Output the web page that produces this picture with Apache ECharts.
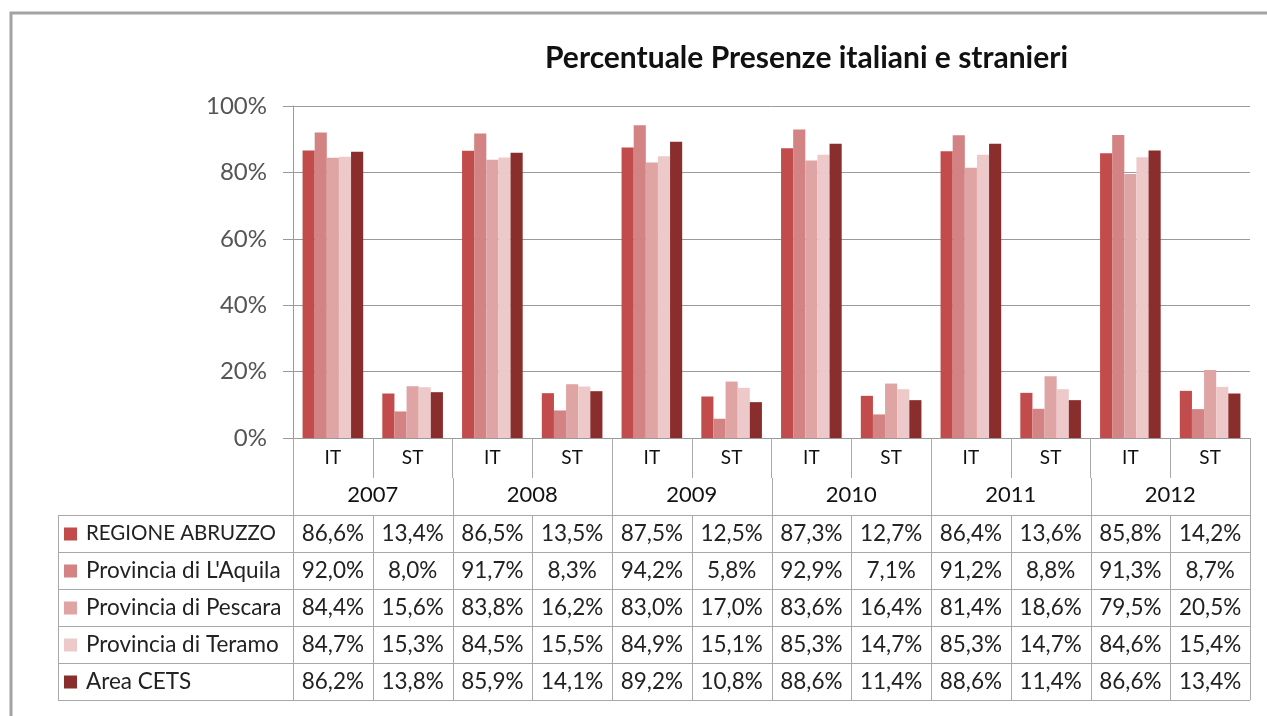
<!DOCTYPE html>
<html>
<head>
<meta charset="utf-8">
<script src="https://cdn.jsdelivr.net/npm/echarts@6/dist/echarts.min.js"></script>
<style>
  html, body { margin: 0; padding: 0; background: #fff; }
  #main { width: 1267px; height: 716px; }
</style>
</head>
<body>
<div id="main"></div>
<script>
// data
const categories = ['IT', 'ST', 'IT', 'ST', 'IT', 'ST', 'IT', 'ST', 'IT', 'ST', 'IT', 'ST'];
const years = ['2007', '2008', '2009', '2010', '2011', '2012'];
const seriesNames = ['REGIONE ABRUZZO', "Provincia di L'Aquila", 'Provincia di Pescara', 'Provincia di Teramo', 'Area CETS'];
const regioneAbruzzo = [86.6, 13.4, 86.5, 13.5, 87.5, 12.5, 87.3, 12.7, 86.4, 13.6, 85.8, 14.2];
const provAquila = [92.0, 8.0, 91.7, 8.3, 94.2, 5.8, 92.9, 7.1, 91.2, 8.8, 91.3, 8.7];
const provPescara = [84.4, 15.6, 83.8, 16.2, 83.0, 17.0, 83.6, 16.4, 81.4, 18.6, 79.5, 20.5];
const provTeramo = [84.7, 15.3, 84.5, 15.5, 84.9, 15.1, 85.3, 14.7, 85.3, 14.7, 84.6, 15.4];
const areaCets = [86.2, 13.8, 85.9, 14.1, 89.2, 10.8, 88.6, 11.4, 88.6, 11.4, 86.6, 13.4];
const yTicks = [0, 20, 40, 60, 80, 100];

const allValues = [regioneAbruzzo, provAquila, provPescara, provTeramo, areaCets];
const colors = ['#c24b4b', '#d38383', '#dfa4a4', '#eec9c9', '#8a2d2d'];
const font = 'Lato, "Open Sans", sans-serif';
const gridColor = '#9a9a9a';
const tableColor = '#a8a8a8';

const chart = echarts.init(document.getElementById('main'));

let option = {
  animation: false,
  backgroundColor: '#fff',
  title: {
    text: 'Percentuale Presenze italiani e stranieri',
    left: 540,
    top: 38,
    textStyle: { fontFamily: font, fontSize: 30, fontWeight: 'bold', color: '#111' }
  },
  grid: { left: 293, right: 17, top: 106, bottom: 278, containLabel: false },
  xAxis: {
    type: 'category',
    data: categories,
    axisLine: { lineStyle: { color: gridColor, width: 1 } },
    axisTick: { show: true, interval: 0, length: 40, lineStyle: { color: tableColor } },
    axisLabel: { interval: 0, margin: 10, fontFamily: font, fontSize: 19, color: '#111' }
  },
  yAxis: {
    type: 'value',
    min: yTicks[0],
    max: yTicks[yTicks.length - 1],
    interval: 20,
    axisLine: { show: true, lineStyle: { color: gridColor } },
    axisTick: { show: true, length: 10, lineStyle: { color: gridColor } },
    splitLine: { lineStyle: { color: gridColor } },
    axisLabel: { formatter: '{value}%', margin: 26, fontFamily: font, fontSize: 24, color: '#555' }
  },
  series: seriesNames.map((name, i) => ({
    name: name,
    type: 'bar',
    data: allValues[i],
    barGap: 0,
    barCategoryGap: '24%',
    itemStyle: { color: colors[i] }
  }))
};
chart.setOption(option);

// data table under the plot, placed from the category axis
function drawTable() {
  const c0 = chart.convertToPixel({ xAxisIndex: 0 }, 0);
  const bandW = chart.convertToPixel({ xAxisIndex: 0 }, 1) - c0;
  const xLeft = c0 - bandW / 2;
  const xRight = xLeft + bandW * categories.length;
  const y0 = chart.convertToPixel({ yAxisIndex: 0 }, 0);
  const rowTop = y0 + 77;
  const rowH = 37;
  const legendLeft = 58;
  const ls = { stroke: tableColor, lineWidth: 1 };
  const els = [];
  const line = (x1, y1, x2, y2) => els.push({ type: 'line', silent: true, shape: { x1: x1, y1: y1, x2: x2, y2: y2 }, style: ls });
  const text = (x, y, t, align, size, color) => els.push({
    type: 'text', silent: true, x: x, y: y,
    style: { text: t, align: align, verticalAlign: 'middle', font: size + 'px ' + font, fill: color }
  });

  // year row
  for (let k = 0; k <= years.length; k++) {
    const x = Math.round(xLeft + k * 2 * bandW) + 0.5;
    line(x, y0 + 40, x, rowTop);
  }
  years.forEach((yr, k) => text(xLeft + (2 * k + 1) * bandW, y0 + 57, yr, 'center', 22, '#111'));

  // grid of the value rows
  for (let r = 0; r <= seriesNames.length; r++) {
    const y = Math.round(rowTop + r * rowH) + 0.5;
    line(legendLeft, y, xRight, y);
  }
  const yEnd = rowTop + seriesNames.length * rowH;
  line(legendLeft + 0.5, rowTop, legendLeft + 0.5, yEnd);
  for (let k = 0; k <= categories.length; k++) {
    const x = Math.round(xLeft + k * bandW) + 0.5;
    line(x, rowTop, x, yEnd);
  }

  seriesNames.forEach((name, r) => {
    const yc = rowTop + r * rowH + rowH / 2;
    els.push({ type: 'rect', silent: true, shape: { x: legendLeft + 6, y: yc - 6, width: 13, height: 13 }, style: { fill: colors[r] } });
    // upper-case name is set a bit smaller so it stays inside its cell
    text(legendLeft + 28, yc, name, 'left', name === name.toUpperCase() ? 20.5 : 22.5, '#222');
    allValues[r].forEach((v, i) => {
      text(xLeft + (i + 0.5) * bandW, yc, v.toFixed(1).replace('.', ',') + '%', 'center', 22.5, '#222');
    });
  });

  // outer frame of the chart area
  els.push({ type: 'polyline', silent: true, shape: { points: [[11, 716], [11, 13], [1267, 13]] }, style: { stroke: '#a3a3a3', lineWidth: 3, fill: null } });

  chart.setOption({ graphic: { elements: els } });
}
drawTable();
</script>
</body>
</html>
